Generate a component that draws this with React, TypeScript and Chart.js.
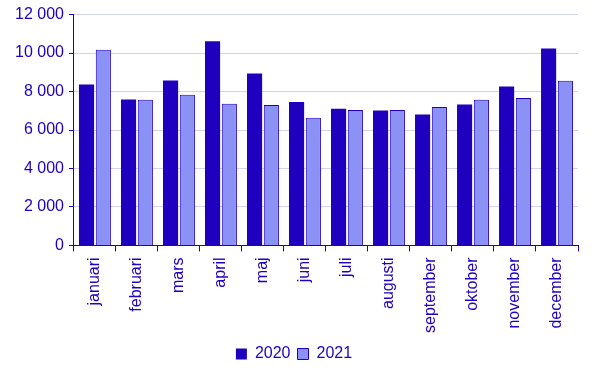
import React, { useEffect, useRef } from "react";
import { Chart, registerables } from "chart.js";

Chart.register(...registerables);

const months = ["januari", "februari", "mars", "april", "maj", "juni", "juli", "augusti", "september", "oktober", "november", "december"];
const series2020 = [8370, 7580, 8570, 10610, 8940, 7460, 7110, 7010, 6800, 7320, 8260, 10240];
const series2021 = [10170, 7570, 7830, 7360, 7300, 6640, 7040, 7040, 7200, 7570, 7670, 8560];
const yTicks = [0, 2000, 4000, 6000, 8000, 10000, 12000];

const TEXT = "#1E00BE";
const DARK = "#1E00BE";
const LIGHT = "#8C91F5";
const GRID = "#D2D2F2";
const FAMILY = "'Liberation Sans', Arial, sans-serif";

const fmt = (v: number) => String(v).replace(/\B(?=(\d{3})+(?!\d))/g, " ");

export default function App() {
  const ref = useRef<HTMLCanvasElement | null>(null);
  useEffect(() => {
    document.body.style.margin = "0";
    const ctx = ref.current!;
    const chart = new Chart(ctx, {
      type: "bar",
      data: {
        labels: months,
        datasets: [
          { label: "2020", data: series2020, backgroundColor: DARK, borderColor: DARK, borderWidth: 0 },
          { label: "2021", data: series2021, backgroundColor: LIGHT, borderColor: DARK, borderWidth: 1 },
        ],
      },
      options: {
        animation: false,
        responsive: false,
        devicePixelRatio: 1,
        layout: { padding: { top: 12, right: 14, left: 10, bottom: 4 } },
        datasets: { bar: { categoryPercentage: 0.8, barPercentage: 0.9 } },
        font: { family: FAMILY, size: 16 },
        plugins: {
          legend: {
            position: "bottom",
            labels: {
              color: TEXT,
              boxWidth: 11,
              boxHeight: 11,
              padding: 7,
              font: { family: FAMILY, size: 16 },
            },
          },
          tooltip: { enabled: false },
        },
        scales: {
          x: {
            offset: true,
            grid: { display: true, drawOnChartArea: false, drawTicks: true, tickLength: 6, tickColor: DARK, offset: true },
            border: { color: DARK, width: 1 },
            ticks: {
              color: TEXT,
              minRotation: 90,
              maxRotation: 90,
              padding: 6,
              autoSkip: false,
              font: { family: FAMILY, size: 16 },
            },
          },
          y: {
            min: 0,
            max: 12000,
            afterBuildTicks: (axis: any) => {
              axis.ticks = yTicks.map((v) => ({ value: v }));
            },
            grid: { color: GRID, tickColor: DARK, tickLength: 5 },
            border: { color: DARK, width: 1 },
            ticks: {
              color: TEXT,
              padding: 5,
              callback: (v: any) => fmt(Number(v)),
              font: { family: FAMILY, size: 16 },
            },
          },
        },
      },
    });
    return () => chart.destroy();
  }, []);
  return <canvas ref={ref} width={592} height={376} style={{ display: "block", width: 592, height: 376 }} />;
}
